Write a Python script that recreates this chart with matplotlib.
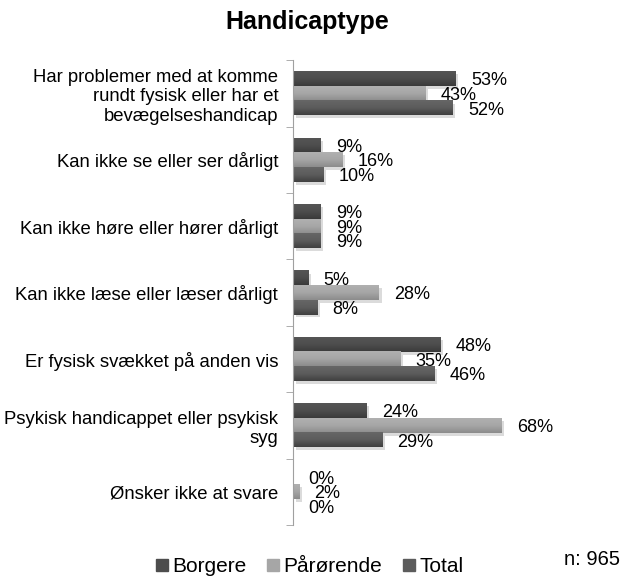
import matplotlib.pyplot as plt
import matplotlib.patheffects as pe
from matplotlib.patches import Patch
from matplotlib.colors import LinearSegmentedColormap
import numpy as np

plt.rcParams['font.family'] = ['Liberation Sans', 'DejaVu Sans']

categories = [
    "Har problemer med at komme\nrundt fysisk eller har et\nbevægelseshandicap",
    "Kan ikke se eller ser dårligt",
    "Kan ikke høre eller hører dårligt",
    "Kan ikke læse eller læser dårligt",
    "Er fysisk svækket på anden vis",
    "Psykisk handicappet eller psykisk\nsyg",
    "Ønsker ikke at svare",
]
borgere = [53, 9, 9, 5, 48, 24, 0]
paarorende = [43, 16, 9, 28, 35, 68, 2]
total = [52, 10, 9, 8, 46, 29, 0]

# name, values, (top, middle, bottom) shading like the excel gradient
series = [("Borgere", borgere, ("#555555", "#4d4d4d", "#3a3a3a")),
          ("Pårørende", paarorende, ("#b0b0b0", "#a6a6a6", "#8c8c8c")),
          ("Total", total, ("#666666", "#5c5c5c", "#404040"))]

fig = plt.figure(figsize=(6.23, 5.79), dpi=100)
ax = fig.add_axes([0.470, 0.093, 0.493, 0.803])

y = np.arange(len(categories))
h = 0.22
shadow = [pe.SimplePatchShadow(offset=(2, -2), shadow_rgbFace='#c4c4c4', alpha=0.6), pe.Normal()]
grad = np.linspace(0, 1, 50).reshape(-1, 1)

handles = []
for k, (name, vals, cols) in enumerate(series):
    cmap = LinearSegmentedColormap.from_list(name, cols)
    pos = y + (k - 1) * h
    bars = ax.barh(pos, vals, height=h, color=cols[1])
    for b, p, v in zip(bars, pos, vals):
        b.set_path_effects(shadow)
        if v > 0:
            ax.imshow(grad, cmap=cmap, aspect='auto', extent=(0, v, p + h / 2, p - h / 2), zorder=2)
        ax.text(v + 5, p + 0.03, f"{v}%", va='center', ha='left', fontsize=13, color='black')
    handles.append(Patch(color=cols[1], label=name))

ax.set_xlim(0, 100)
ax.set_ylim(len(categories) - 0.5, -0.5)
ax.set_yticks(y)
ax.set_yticklabels(categories, fontsize=13.3)
ax.set_yticks(np.arange(-0.5, len(categories)), minor=True)
ax.tick_params(axis='y', which='major', length=0, pad=10.5)
ax.tick_params(axis='y', which='minor', length=5, color='#a0a0a0', direction='out')
ax.set_xticks([])
for s in ['top', 'right', 'bottom']:
    ax.spines[s].set_visible(False)
ax.spines['left'].set_color('#a0a0a0')

fig.text(0.493, 0.962, "Handicaptype", ha='center', va='center', fontsize=18, fontweight='bold')

fig.legend(handles=handles, loc='center', bbox_to_anchor=(0.497, 0.021), ncol=3, frameon=False,
           fontsize=15, handlelength=0.58, handleheight=0.58, handletextpad=0.2, columnspacing=1.0,
           borderpad=0, borderaxespad=0)
fig.text(0.995, 0.033, "n: 965", ha='right', va='center', fontsize=14.5)

fig.savefig("out.png", dpi=100)
